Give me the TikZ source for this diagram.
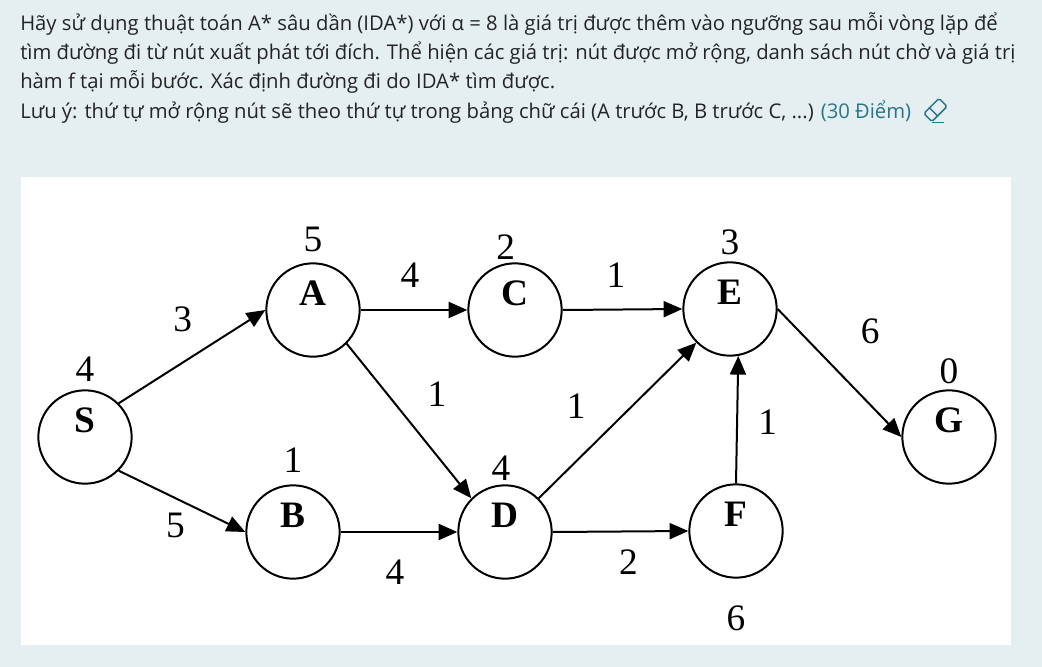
\documentclass[tikz,border=0pt]{standalone}
\usepackage{fontspec}
\usepackage{xcolor}
\usetikzlibrary{positioning,arrows.meta,calc}
\setmainfont{Liberation Serif}
\newfontfamily\qsans{Open Sans}
\definecolor{idapage}{RGB}{229,238,241}
\definecolor{idatext}{RGB}{36,36,36}
\definecolor{idapoints}{RGB}{40,118,138}
\tikzset{
  question/.style={font=\qsans\fontsize{15.2}{18}\selectfont, text=idatext, inner sep=0pt, anchor=base west},
  vert/.style={
    circle, draw, line width=1.5pt, minimum size=70pt, inner sep=0pt,
    font=\bfseries\fontsize{28}{30}\selectfont, text height=18.5pt, text depth=25.4pt
  },
  hval/.style={font=\fontsize{28}{30}\selectfont, inner sep=0pt},
  wt/.style={font=\fontsize{28}{30}\selectfont, inner sep=0pt},
  arr/.style={-{Triangle[length=14pt,width=12pt]}, line width=1.5pt},
  eraser/.style={
    draw=idapoints, line width=1.1pt, rounded corners=1.2pt,
    minimum width=16pt, minimum height=8.5pt, inner sep=0pt
  },
  icon/.style={draw=idapoints, line width=1.1pt},
}

\begin{document}
\begin{tikzpicture}[x=0.75pt, y=-0.75pt]
  \useasboundingbox (0,0) rectangle (1042,667);
  \fill[idapage] (0,0) rectangle (1042,667);
  \fill[white] (21,177) rectangle (1011,645);

  % ===== question text =====
  \node[question] (q1) at (20,31) {Hãy sử dụng thuật toán A* sâu dần (IDA*) với α = 8 là giá trị được thêm vào ngưỡng sau mỗi vòng lặp để};
  \node[question] (q2) at ([yshift=-21.75pt]q1.base west) {tìm đường đi từ nút xuất phát tới đích. Thể hiện các giá trị: nút được mở rộng, danh sách nút chờ và giá trị};
  \node[question] (q3) at ([yshift=-21.75pt]q2.base west) {hàm f tại mỗi bước. Xác định đường đi do IDA* tìm được.};
  \node[question] (q4) at ([yshift=-21.75pt]q3.base west) {Lưu ý: thứ tự mở rộng nút sẽ theo thứ tự trong bảng chữ cái (A trước B, B trước C, ...) \textcolor{idapoints}{(30 Điểm)}};

  % eraser icon after the points
  \node[eraser, rotate=45] (er) at ([xshift=18pt,yshift=6pt]q4.base east) {};
  \draw[icon] ($(er.north west)!0.38!(er.north east)$) -- ($(er.south west)!0.38!(er.south east)$);
  \draw[icon] (er.south west) -- ++(9pt,0);

  % ===== graph nodes =====
  \node[vert] (S) at (85,437) {S};
  \node[vert] (A) at (313,310) {A};
  \node[vert] (B) at (293,532) {B};
  \node[vert] (C) at (515,310) {C};
  \node[vert] (D) at (505,532) {D};
  \node[vert] (E) at (730,309) {E};
  \node[vert] (F) at (736,531) {F};
  \node[vert] (G) at (949,437) {G};

  % heuristic values
  \node[hval, above=6pt of S] (hS) {4};
  \node[hval, above=8pt of A] (hA) {5};
  \node[hval, above=2pt of C, xshift=-7pt] (hC) {2};
  \node[hval, above=5pt of E] (hE) {3};
  \node[hval, above=4pt of G] (hG) {0};
  \node[hval, above=9pt of B] (hB) {1};
  \node[hval, above=3pt of D, xshift=-3pt] (hD) {4};
  \node[hval, below=20pt of F] (hF) {6};

  % ===== edges =====
  \draw[arr] (S.45) -- node[wt, xshift=-7pt, yshift=28pt] (wSA) {3} (A.west);
  \draw[arr] (S.-45) -- node[wt, xshift=-5pt, yshift=-18pt] (wSB) {5} (B.west);
  \draw[arr] (A.east) -- node[wt, xshift=-3pt, yshift=26pt] (wAC) {4} (C.west);
  \draw[arr] (C.east) -- node[wt, xshift=-5pt, yshift=26pt] (wCE) {1} (E.west);
  \draw[arr] (A.-45) -- node[wt, xshift=21pt, yshift=20pt] (wAD) {1} (D.135);
  \draw[arr] (D.45) -- node[wt, xshift=-31pt, yshift=11pt] (wDE) {1} (E.-135);
  \draw[arr] (F.north) -- node[wt, xshift=23pt, yshift=-2pt] (wFE) {1} (E.-80);
  \draw[arr] (E.east) -- node[wt, xshift=23pt, yshift=31pt] (wEG) {6} (G.west);
  \draw[arr] (B.east) -- node[wt, xshift=-3pt, yshift=-30pt] (wBD) {4} (D.west);
  \draw[arr] (D.east) -- node[wt, xshift=6pt, yshift=-23pt] (wDF) {2} (F.west);

\end{tikzpicture}
\end{document}
